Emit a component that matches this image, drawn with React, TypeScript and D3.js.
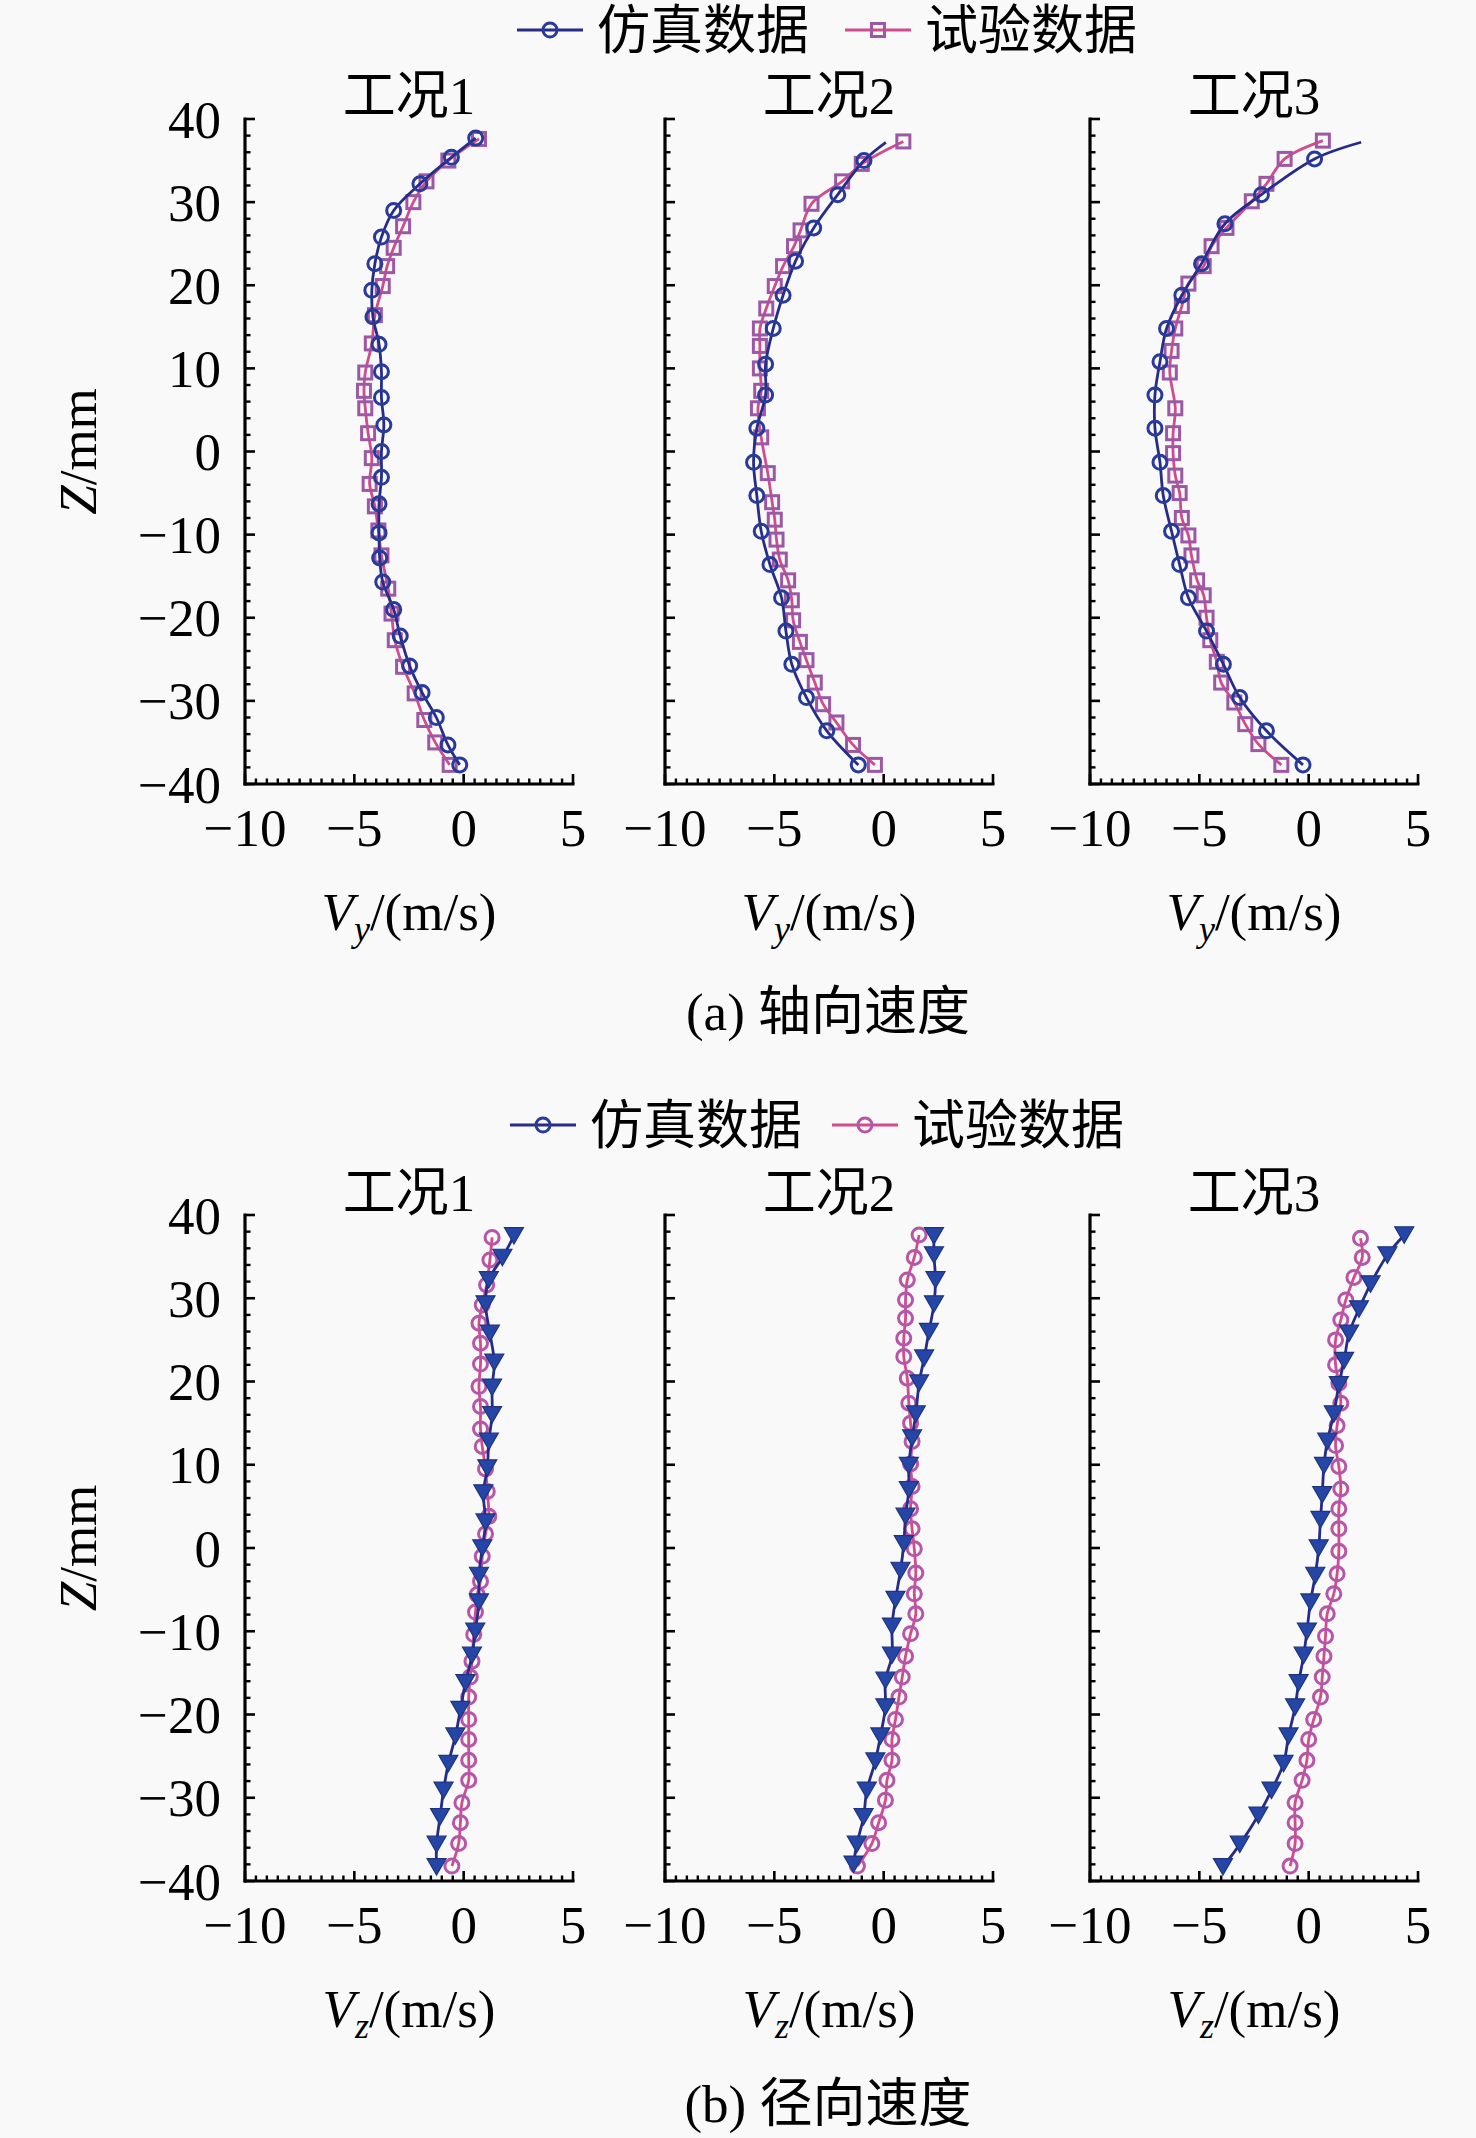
import React from "react";
import * as d3 from "d3";

// ---------- data ----------
const xTickValues = [-10, -5, 0, 5];
const yTickValues = [40, 30, 20, 10, 0, -10, -20, -30, -40];
const caseTitles = ["工况1", "工况2", "工况3"];
const legendLabels = ["仿真数据", "试验数据"];
const captions = ["(a) 轴向速度", "(b) 径向速度"];
const xAxisVar = ["y", "z"];

// (a) axial velocity Vy — simulation (circles)
const a1SimZ = [-37.7, -35.3, -32, -29, -25.8, -22.2, -19, -15.7, -12.8, -9.8, -6.3, -3.1, 0, 3.2, 6.5, 9.6, 12.9, 16.2, 19.4, 22.6, 25.8, 29, 32.2, 35.4, 37.7];
const a1SimV = [-0.18, -0.72, -1.25, -1.9, -2.47, -2.9, -3.2, -3.7, -3.84, -3.87, -3.87, -3.76, -3.76, -3.65, -3.76, -3.76, -3.87, -4.15, -4.2, -4.06, -3.76, -3.2, -2.0, -0.56, 0.55];
// (a) experiment (squares)
const a1ExpZ = [-37.7, -35, -32.3, -29.1, -25.9, -22.7, -19.5, -16.5, -12.5, -9.5, -6.6, -3.9, -0.8, 2.2, 5.2, 7.3, 9.5, 13, 16.4, 19.9, 22.3, 24.5, 27.1, 30, 32.5, 35, 37.6];
const a1ExpV = [-0.64, -1.3, -1.8, -2.24, -2.77, -3.15, -3.3, -3.45, -3.76, -3.9, -4.06, -4.3, -4.2, -4.37, -4.5, -4.56, -4.5, -4.2, -4.06, -3.7, -3.5, -3.2, -2.77, -2.3, -1.7, -0.7, 0.7];

const a2SimZ = [-37.7, -33.6, -29.6, -25.6, -21.6, -17.6, -13.6, -9.6, -5.3, -1.3, 2.8, 6.8, 10.5, 14.8, 18.8, 22.9, 26.9, 30.9, 35, 37.2];
const a2SimV = [-1.16, -2.6, -3.53, -4.2, -4.47, -4.67, -5.2, -5.6, -5.8, -5.95, -5.8, -5.4, -5.4, -5.05, -4.6, -4.03, -3.2, -2.1, -0.9, 0.1];
const a2ExpZ = [-37.7, -35.3, -32.6, -30.4, -27.8, -25.1, -22.9, -20.3, -17.9, -15.5, -13, -10.6, -8.2, -6.1, -2.6, 1.7, 5.2, 7.3, 10, 12.7, 14.8, 17.2, 19.9, 22.3, 24.7, 26.6, 29.8, 32.5, 34.6, 37.3];
const a2ExpV = [-0.4, -1.4, -2.16, -2.77, -3.15, -3.53, -3.83, -4.14, -4.2, -4.37, -4.75, -4.9, -4.98, -5.1, -5.3, -5.6, -5.75, -5.6, -5.66, -5.66, -5.66, -5.37, -4.98, -4.6, -4.1, -3.8, -3.3, -1.9, -1.0, 0.9];

const a3SimZ = [-37.7, -33.6, -29.6, -25.6, -21.6, -17.6, -13.6, -9.6, -5.3, -1.3, 2.8, 6.8, 10.8, 14.8, 18.8, 22.6, 27.4, 30.9, 35.2, 37.2];
const a3SimV = [-0.26, -1.93, -3.15, -3.9, -4.67, -5.5, -5.9, -6.27, -6.65, -6.8, -7.03, -7.03, -6.8, -6.5, -5.8, -4.9, -3.83, -2.16, 0.27, 2.4];
const a3ExpZ = [-37.7, -35.2, -32.8, -30.2, -27.8, -25.3, -22.7, -20, -17.3, -15.5, -12.5, -10.1, -8, -5, -2.9, -0.2, 2.2, 5.2, 9.5, 12.1, 14.8, 17.5, 20.2, 22.3, 24.7, 26.9, 30.1, 32.2, 35.2, 37.4];
const a3ExpV = [-1.25, -2.3, -2.9, -3.4, -4.0, -4.2, -4.5, -4.67, -4.8, -5.1, -5.36, -5.5, -5.8, -5.9, -6.1, -6.2, -6.2, -6.1, -6.35, -6.27, -6.1, -5.8, -5.5, -4.8, -4.44, -3.76, -2.6, -1.93, -1.1, 0.65];

// (b) radial velocity Vz — simulation (triangles)
const b1SimZ = [-38.3, -35.6, -32.3, -29.1, -25.9, -22.6, -19.4, -16.2, -12.9, -10, -6.5, -3.3, 0, 3.1, 6.6, 9.6, 12.8, 16, 19.3, 22.3, 25.8, 29.3, 32.2, 34.9, 37.5];
const b1SimV = [-1.24, -1.24, -1.08, -0.92, -0.7, -0.38, -0.15, 0.08, 0.38, 0.53, 0.7, 0.7, 0.85, 1.0, 0.9, 1.08, 1.15, 1.3, 1.3, 1.4, 1.2, 1.0, 1.15, 1.77, 2.3];
// (b) experiment (circles)
const b1ExpZ = [-38.2, -35.5, -33, -30.6, -27.9, -25.5, -23, -20.6, -17.9, -15.5, -13.6, -10.4, -7.7, -5.6, -4, -1, 1.7, 3.8, 6.8, 9.5, 12.2, 14.3, 17, 19.4, 22.1, 24.6, 27, 29.2, 31.6, 34.6, 37.3];
const b1ExpV = [-0.54, -0.23, -0.15, -0.08, 0.23, 0.23, 0.23, 0.23, 0.23, 0.3, 0.38, 0.46, 0.54, 0.62, 0.77, 0.85, 1.0, 1.15, 1.08, 1.0, 0.85, 0.77, 0.77, 0.7, 0.77, 0.77, 0.7, 0.85, 1.05, 1.2, 1.3];

const b2SimZ = [-38, -35.6, -32.3, -29.1, -25.6, -22.6, -19.1, -15.9, -12.9, -9.4, -6.2, -2.7, 0.5, 3.8, 7, 9.9, 13.2, 16.1, 19.8, 22.8, 26, 29.3, 32.2, 35.2, 37.5];
const b2SimV = [-1.38, -1.23, -0.92, -0.77, -0.38, -0.15, 0.08, 0.08, 0.38, 0.38, 0.54, 0.77, 0.92, 1.0, 1.15, 1.15, 1.3, 1.47, 1.62, 1.85, 2.07, 2.3, 2.37, 2.3, 2.3];
const b2ExpZ = [-38.2, -35.5, -33, -30.3, -27.9, -25.5, -23, -20.6, -17.9, -15.5, -13, -10.3, -7.9, -5.5, -3, -0.1, 2.3, 4.7, 7.4, 10.1, 12.8, 15, 17.4, 20.4, 23, 25.2, 27.6, 29.8, 32.2, 34.9, 37.6];
const b2ExpV = [-1.2, -0.54, -0.23, 0.08, 0.15, 0.38, 0.38, 0.54, 0.7, 0.85, 1.0, 1.23, 1.47, 1.4, 1.47, 1.4, 1.3, 1.23, 1.3, 1.23, 1.3, 1.23, 1.15, 1.08, 0.92, 0.92, 1.0, 1.0, 1.08, 1.4, 1.62];

const b3SimZ = [-38.3, -35.6, -32.1, -29.1, -25.9, -22.6, -19.1, -16.2, -12.9, -10, -6.5, -3.3, 0, 3.4, 6.4, 9.9, 12.8, 16.1, 19.6, 22.5, 25.8, 28.7, 31.7, 35.2, 37.6];
const b3SimV = [-3.92, -3.15, -2.3, -1.7, -1.15, -0.92, -0.62, -0.46, -0.23, -0.08, 0.08, 0.3, 0.46, 0.54, 0.62, 0.7, 0.85, 1.15, 1.38, 1.62, 1.85, 2.3, 2.83, 3.6, 4.37];
const b3ExpZ = [-38.2, -35.5, -33, -30.6, -27.9, -25.5, -23, -20.6, -17.9, -15.5, -13, -10.6, -7.9, -5.5, -3.1, -0.4, 2.3, 4.7, 7.1, 9.8, 12.3, 14.7, 17.4, 19.8, 22, 25, 27.4, 29.8, 32.5, 34.9, 37.2];
const b3ExpV = [-0.85, -0.62, -0.62, -0.62, -0.3, -0.08, 0, 0.23, 0.54, 0.62, 0.7, 0.77, 0.85, 1.15, 1.3, 1.38, 1.38, 1.38, 1.47, 1.38, 1.23, 1.3, 1.47, 1.38, 1.23, 1.23, 1.47, 1.7, 2.07, 2.45, 2.37];

// ---------- layout / style ----------
const W = 1476;
const H = 2138;
const FONT = "'Liberation Serif','Times New Roman','Noto Sans CJK SC',serif";
const FS = 53;
const panelLefts = [245, 665, 1090];
const panelW = 328;
const rows = [
  { top: 119, bottom: 784, legendY: 30, titleY: 114, tickY: 846, labelY: 930, captionY: 1030, legendX: [517, 845] },
  { top: 1215, bottom: 1881, legendY: 1125, titleY: 1211, tickY: 1943, labelY: 2027, captionY: 2122, legendX: [510, 832] },
];
const SIM_LINE = "#262c88";
const SIM_MARK = "#283a9a";
const EXP_LINE = "#d04c8c";
const EXP_MARK = "#9c58a4";
const TRI_FILL = "#2546a6";
const BC_MARK = "#b656a8";

type Series = { z: number[]; v: number[]; marker: "circle" | "square" | "triangle"; line: string; mark: string; tip?: boolean };

const rowSeries: Series[][][] = [
  [
    [
      { z: a1ExpZ, v: a1ExpV, marker: "square", line: EXP_LINE, mark: EXP_MARK },
      { z: a1SimZ, v: a1SimV, marker: "circle", line: SIM_LINE, mark: SIM_MARK },
    ],
    [
      { z: a2ExpZ, v: a2ExpV, marker: "square", line: EXP_LINE, mark: EXP_MARK },
      { z: a2SimZ, v: a2SimV, marker: "circle", line: SIM_LINE, mark: SIM_MARK, tip: true },
    ],
    [
      { z: a3ExpZ, v: a3ExpV, marker: "square", line: EXP_LINE, mark: EXP_MARK },
      { z: a3SimZ, v: a3SimV, marker: "circle", line: SIM_LINE, mark: SIM_MARK, tip: true },
    ],
  ],
  [
    [
      { z: b1ExpZ, v: b1ExpV, marker: "circle", line: EXP_LINE, mark: BC_MARK },
      { z: b1SimZ, v: b1SimV, marker: "triangle", line: SIM_LINE, mark: TRI_FILL },
    ],
    [
      { z: b2ExpZ, v: b2ExpV, marker: "circle", line: EXP_LINE, mark: BC_MARK },
      { z: b2SimZ, v: b2SimV, marker: "triangle", line: SIM_LINE, mark: TRI_FILL },
    ],
    [
      { z: b3ExpZ, v: b3ExpV, marker: "circle", line: EXP_LINE, mark: BC_MARK },
      { z: b3SimZ, v: b3SimV, marker: "triangle", line: SIM_LINE, mark: TRI_FILL },
    ],
  ],
];

const fmt = (v: number) => (v < 0 ? "\u2212" + Math.abs(v) : String(v));

function Marker({ kind, cx, cy, color }: { kind: string; cx: number; cy: number; color: string }) {
  if (kind === "circle") return <circle cx={cx} cy={cy} r={7} fill="none" stroke={color} strokeWidth={3} />;
  if (kind === "square") return <rect x={cx - 6.5} y={cy - 6.5} width={13} height={13} fill="none" stroke={color} strokeWidth={3} />;
  const s = 19;
  const h = s * 0.866;
  const pts = `${cx - s / 2},${cy - h / 2} ${cx + s / 2},${cy - h / 2} ${cx},${cy + h / 2}`;
  return <polygon points={pts} fill={color} stroke="#1e3480" strokeWidth={1.2} />;
}

function Panel({ left, row, series, title, ri }: { left: number; row: typeof rows[0]; series: Series[]; title: string; ri: number }) {
  const x = d3.scaleLinear().domain([-10, 5]).range([left, left + panelW]);
  const y = d3.scaleLinear().domain([-40, 40]).range([row.bottom, row.top]);
  const line = d3
    .line<[number, number]>()
    .x((d) => x(d[1]))
    .y((d) => y(d[0]))
    .curve(d3.curveCatmullRom.alpha(0.5));
  const yMinor = d3.range(-40, 40.01, 2).filter((v) => v % 10 !== 0);
  const xMinor = d3.range(-10, 5.01, 0.5).filter((v) => v % 5 !== 0);
  const cx = left + panelW / 2;
  return (
    <g>
      <text x={cx} y={row.titleY} textAnchor="middle" fontSize={FS} fontFamily={FONT}>{title}</text>
      {series.map((s, i) => {
        const pts: [number, number][] = s.z.map((z, k) => [z, s.v[k]]);
        return (
          <g key={i}>
            <path d={line(pts) || ""} fill="none" stroke={s.line} strokeWidth={2.8} />
            {pts.map((p, k) =>
              s.tip && k === pts.length - 1 ? null : (
                <Marker key={k} kind={s.marker} cx={x(p[1])} cy={y(p[0])} color={s.mark} />
              )
            )}
          </g>
        );
      })}
      {/* axes */}
      <line x1={left} x2={left} y1={row.top - 1.5} y2={row.bottom + 1.5} stroke="#000" strokeWidth={3.2} />
      <line x1={left - 1.5} x2={left + panelW + 1.5} y1={row.bottom} y2={row.bottom} stroke="#000" strokeWidth={3.2} />
      {yTickValues.map((v) => (
        <line key={"y" + v} x1={left} x2={left + 10} y1={y(v)} y2={y(v)} stroke="#000" strokeWidth={2.6} />
      ))}
      {yMinor.map((v) => (
        <line key={"ym" + v} x1={left} x2={left + 5.5} y1={y(v)} y2={y(v)} stroke="#000" strokeWidth={2.4} />
      ))}
      {xTickValues.map((v) => (
        <g key={"x" + v}>
          <line x1={x(v)} x2={x(v)} y1={row.bottom} y2={row.bottom - 10} stroke="#000" strokeWidth={2.6} />
          <text x={x(v)} y={row.tickY} textAnchor="middle" fontSize={FS} fontFamily={FONT}>{fmt(v)}</text>
        </g>
      ))}
      {xMinor.map((v) => (
        <line key={"xm" + v} x1={x(v)} x2={x(v)} y1={row.bottom} y2={row.bottom - 5.5} stroke="#000" strokeWidth={2.4} />
      ))}
      <text x={cx} y={row.labelY} textAnchor="middle" fontSize={FS} fontFamily={FONT}>
        <tspan fontStyle="italic">V</tspan>
        <tspan fontStyle="italic" fontSize={36} dy={11}>{xAxisVar[ri]}</tspan>
        <tspan dy={-11}>/(m/s)</tspan>
      </text>
    </g>
  );
}

export default function App() {
  return (
    <svg
      width={W}
      height={H}
      viewBox={`0 0 ${W} ${H}`}
      style={{ position: "absolute", left: 0, top: 0, display: "block" }}
    >
      <rect x={0} y={0} width={W} height={H} fill="#f9f9f9" />
      {rows.map((row, ri) => {
        const y = d3.scaleLinear().domain([-40, 40]).range([row.bottom, row.top]);
        const legendMarkColors = ri === 0 ? [SIM_MARK, EXP_MARK] : [SIM_MARK, BC_MARK];
        const legendMarkKinds = ri === 0 ? ["circle", "square"] : ["circle", "circle"];
        return (
          <g key={ri}>
            {legendLabels.map((lab, li) => {
              const lx = row.legendX[li];
              return (
                <g key={li}>
                  <line x1={lx} x2={lx + 66} y1={row.legendY} y2={row.legendY} stroke={li === 0 ? SIM_LINE : EXP_LINE} strokeWidth={3.2} />
                  <Marker kind={legendMarkKinds[li]} cx={lx + 33} cy={row.legendY} color={legendMarkColors[li]} />
                  <text x={lx + 80} y={row.legendY + 19} fontSize={FS} fontFamily={FONT}>{lab}</text>
                </g>
              );
            })}
            {yTickValues.map((v) => (
              <text key={v} x={221} y={y(v)} dy="0.35em" textAnchor="end" fontSize={FS} fontFamily={FONT}>{fmt(v)}</text>
            ))}
            <text
              transform={`translate(96,${(row.top + row.bottom) / 2}) rotate(-90)`}
              textAnchor="middle"
              fontSize={FS}
              fontFamily={FONT}
            >
              <tspan fontStyle="italic">Z</tspan>/mm
            </text>
            {panelLefts.map((left, pi) => (
              <Panel key={pi} left={left} row={row} series={rowSeries[ri][pi]} title={caseTitles[pi]} ri={ri} />
            ))}
            <text x={828} y={row.captionY} textAnchor="middle" fontSize={FS} fontFamily={FONT}>{captions[ri]}</text>
          </g>
        );
      })}
    </svg>
  );
}
